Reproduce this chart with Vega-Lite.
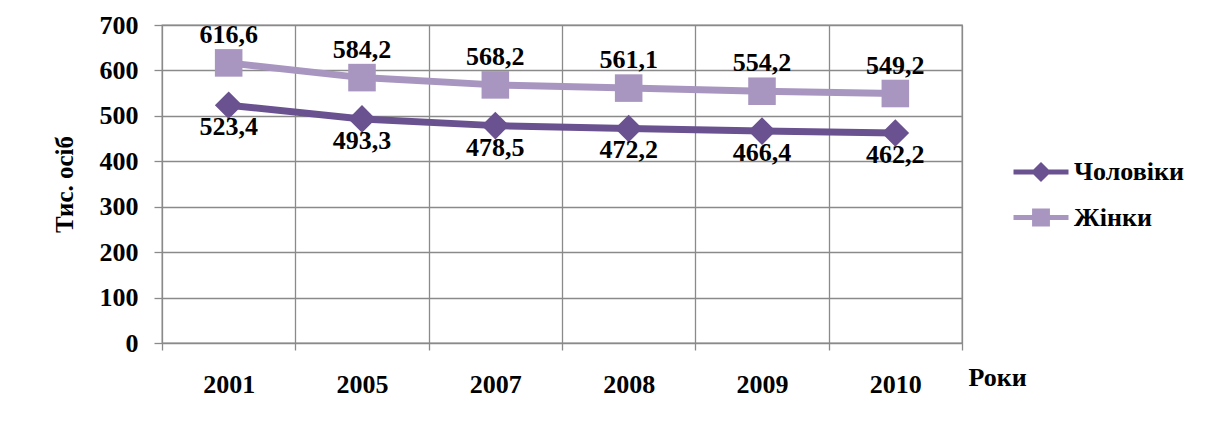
{
  "$schema": "https://vega.github.io/schema/vega-lite/v6.json",
  "width": 800,
  "height": 318,
  "autosize": "none",
  "padding": {"left": 162, "top": 25, "right": 244, "bottom": 81},
  "config": {
    "locale": {"number": {"decimal": ",", "thousands": " ", "grouping": [3], "currency": ["", ""]}},
    "view": {"stroke": "#8a8a8a", "strokeWidth": 1.3},
    "font": "Liberation Serif",
    "text": {"font": "Liberation Serif"},
    "axis": {"labelFont": "Liberation Serif", "titleFont": "Liberation Serif"},
    "legend": {"labelFont": "Liberation Serif", "titleFont": "Liberation Serif"}
  },
  "data": {
    "values": [
      {"year": "2001", "sex": "Чоловіки", "value": 523.4},
      {"year": "2005", "sex": "Чоловіки", "value": 493.3},
      {"year": "2007", "sex": "Чоловіки", "value": 478.5},
      {"year": "2008", "sex": "Чоловіки", "value": 472.2},
      {"year": "2009", "sex": "Чоловіки", "value": 466.4},
      {"year": "2010", "sex": "Чоловіки", "value": 462.2},
      {"year": "2001", "sex": "Жінки", "value": 616.6},
      {"year": "2005", "sex": "Жінки", "value": 584.2},
      {"year": "2007", "sex": "Жінки", "value": 568.2},
      {"year": "2008", "sex": "Жінки", "value": 561.1},
      {"year": "2009", "sex": "Жінки", "value": 554.2},
      {"year": "2010", "sex": "Жінки", "value": 549.2}
    ]
  },
  "encoding": {
    "x": {
      "field": "year", "type": "nominal", "sort": null,
      "scale": {"paddingInner": 0, "paddingOuter": 0},
      "axis": {
        "title": "Роки", "titleFont": "Liberation Serif", "titleFontSize": 26, "titleFontWeight": "bold", "titleColor": "black",
        "titleX": 806, "titleY": 42, "titleAlign": "left", "titleBaseline": "alphabetic", "titleAngle": 0,
        "labelAngle": 0, "labelFont": "Liberation Serif", "labelFontSize": 26, "labelFontWeight": "bold", "labelColor": "black", "labelPadding": 21,
        "tickBand": "extent", "grid": true, "gridColor": "#8a8a8a", "gridWidth": 1.3,
        "ticks": true, "tickSize": 7, "tickColor": "#8a8a8a", "tickWidth": 1.3, "domain": false
      }
    },
    "y": {
      "field": "value", "type": "quantitative",
      "scale": {"domain": [0, 700], "nice": false},
      "axis": {
        "title": "Тис. осіб", "titleFont": "Liberation Serif", "titleFontSize": 25, "titleFontWeight": "bold", "titleColor": "black", "titlePadding": 22,
        "values": [0, 100, 200, 300, 400, 500, 600, 700],
        "labelFont": "Liberation Serif", "labelFontSize": 26, "labelFontWeight": "bold", "labelColor": "black", "labelPadding": 16,
        "grid": true, "gridColor": "#8a8a8a", "gridWidth": 1.3,
        "ticks": true, "tickSize": 8, "tickColor": "#8a8a8a", "tickWidth": 1.3, "domain": false
      }
    },
    "color": {
      "field": "sex", "type": "nominal",
      "scale": {"domain": ["Чоловіки", "Жінки"], "range": ["#6A5190", "#A896C0"]},
      "legend": {
        "title": null, "orient": "none", "legendX": 865, "legendY": 133, "padding": 0,
        "symbolSize": 756, "labelOffset": 19, "rowPadding": 18.5,
        "labelFont": "Liberation Serif", "labelFontSize": 26, "labelFontWeight": "bold", "labelColor": "black",
        "encode": {
          "symbols": {
            "update": {
              "shape": {"signal": "datum.value === 'Чоловіки' ? 'M-2,-0.18H2V0.18H-2Z M0,-0.73L0.73,0L0,0.73L-0.73,0Z' : 'M-2,-0.18H2V0.18H-2Z M-0.65,-0.65H0.65V0.65H-0.65Z'"},
              "fill": {"signal": "datum.value === 'Чоловіки' ? '#6A5190' : '#A896C0'"},
              "fillOpacity": {"value": 1},
              "strokeWidth": {"value": 0}
            }
          }
        }
      }
    }
  },
  "layer": [
    {"mark": {"type": "line", "strokeWidth": 7}},
    {
      "transform": [{"filter": "datum.sex === 'Чоловіки'"}],
      "mark": {"type": "point", "filled": true, "opacity": 1, "size": 760, "shape": "diamond"}
    },
    {
      "transform": [{"filter": "datum.sex === 'Жінки'"}],
      "mark": {"type": "point", "filled": true, "opacity": 1, "size": 760, "shape": "square"}
    },
    {
      "transform": [{"filter": "datum.sex === 'Жінки'"}],
      "mark": {"type": "text", "dy": -20, "baseline": "alphabetic", "font": "Liberation Serif", "fontSize": 26, "fontWeight": "bold"},
      "encoding": {"text": {"field": "value", "type": "quantitative", "format": ".1f"}, "color": {"value": "black"}}
    },
    {
      "transform": [{"filter": "datum.sex === 'Чоловіки'"}],
      "mark": {"type": "text", "dy": 30, "baseline": "alphabetic", "font": "Liberation Serif", "fontSize": 26, "fontWeight": "bold"},
      "encoding": {"text": {"field": "value", "type": "quantitative", "format": ".1f"}, "color": {"value": "black"}}
    }
  ]
}
